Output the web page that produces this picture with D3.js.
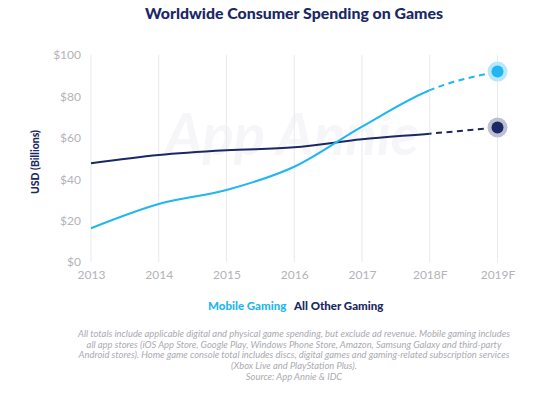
<!DOCTYPE html>
<html><head><meta charset="utf-8">
<script src="https://cdn.jsdelivr.net/npm/d3@7"></script>
<style>
html,body{margin:0;padding:0;background:#fff;}
svg{display:block;}
</style></head>
<body>
<svg id="chart" width="554" height="393"></svg>
<script>
const years = ["2013","2014","2015","2016","2017","2018F","2019F"];
const mobileGaming = [16.3, 28, 34.8, 46, 65.4, 83, 92];
const otherGaming = [47.7, 51.7, 54, 55.4, 59.3, 62, 65];
const yTicks = [0, 20, 40, 60, 80, 100];
const titleText = "Worldwide Consumer Spending on Games";
const yLabel = "USD (Billions)";
const legendLabels = ["Mobile Gaming", "All Other Gaming"];
const footnote = [
  "All totals include applicable digital and physical game spending, but exclude ad revenue. Mobile gaming includes",
  "all app stores (iOS App Store,  Google Play, Windows Phone Store, Amazon, Samsung Galaxy and third-party",
  "Android stores). Home game console total includes discs, digital games and gaming-related subscription services",
  "(Xbox Live and PlayStation Plus).",
  "Source: App Annie & IDC"
];

const blue = "#1fb6f1", navy = "#1a2865", gray = "#b3b3b8";
const font = "Lato, 'Open Sans', sans-serif";
const svg = d3.select("#chart");

const x = d3.scalePoint().domain(years).range([91, 497.5]);
const y = d3.scaleLinear().domain([0, 100]).range([262, 55]);

// watermark
svg.append("text").attr("x", 292).attr("y", 155).attr("text-anchor", "middle")
  .attr("font-family", font).attr("font-style", "italic").attr("font-weight", 700)
  .attr("font-size", 58).attr("fill", "#f6f6f9").text("App Annie");

// title
svg.append("text").attr("x", 294).attr("y", 19).attr("text-anchor", "middle")
  .attr("font-family", font).attr("font-weight", 900).attr("font-size", 15)
  .attr("fill", navy).attr("textLength", 298).attr("lengthAdjust", "spacingAndGlyphs")
  .text(titleText);

// vertical grid
svg.append("g").selectAll("line").data(years).join("line")
  .attr("x1", d => x(d)).attr("x2", d => x(d))
  .attr("y1", y(100)).attr("y2", y(0))
  .attr("stroke", "#e9e9ee").attr("stroke-width", 1);

// y axis
const yAxis = svg.append("g").attr("transform", "translate(81,0)")
  .call(d3.axisLeft(y).tickValues(yTicks).tickSize(0).tickPadding(0).tickFormat(d => "$" + d));
yAxis.select(".domain").remove();
yAxis.selectAll("text").attr("font-family", font).attr("font-size", 12).attr("fill", gray);

// x axis
const xAxis = svg.append("g").attr("transform", "translate(0,270)")
  .call(d3.axisBottom(x).tickSize(0).tickPadding(0));
xAxis.select(".domain").remove();
xAxis.selectAll("text").attr("font-family", font).attr("font-size", 12).attr("fill", gray);

// y label
svg.append("text").attr("transform", "translate(39,162) rotate(-90)")
  .attr("text-anchor", "middle").attr("font-family", font).attr("font-weight", 900)
  .attr("font-size", 10.5).attr("fill", navy).text(yLabel);

// clips
const defs = svg.append("defs");
defs.append("clipPath").attr("id", "solidClip").append("rect")
  .attr("x", 0).attr("y", 0).attr("width", x("2018F")).attr("height", 393);
defs.append("clipPath").attr("id", "dashClip").append("rect")
  .attr("x", x("2018F")).attr("y", 0).attr("width", 554 - x("2018F")).attr("height", 393);

const line = d3.line().x((d, i) => x(years[i])).y(d => y(d)).curve(d3.curveMonotoneX);
const series = [
  {vals: otherGaming, color: navy, halo: "#bcc0d0"},
  {vals: mobileGaming, color: blue, halo: "#b6e7fb"}
];
series.forEach(s => {
  svg.append("path").attr("d", line(s.vals)).attr("fill", "none")
    .attr("stroke", s.color).attr("stroke-width", 2).attr("clip-path", "url(#solidClip)");
  svg.append("path").attr("d", line(s.vals)).attr("fill", "none")
    .attr("stroke", s.color).attr("stroke-width", 2).attr("stroke-dasharray", "6,4.5")
    .attr("clip-path", "url(#dashClip)");
  const last = years.length - 1;
  svg.append("circle").attr("cx", x(years[last])).attr("cy", y(s.vals[last]))
    .attr("r", 10).attr("fill", s.halo);
  svg.append("circle").attr("cx", x(years[last])).attr("cy", y(s.vals[last]))
    .attr("r", 6).attr("fill", s.color);
});

// legend
const legendX = [208, 294];
const legendColors = [blue, navy];
svg.append("g").selectAll("text").data(legendLabels).join("text")
  .attr("x", (d, i) => legendX[i]).attr("y", 310)
  .attr("font-family", font).attr("font-weight", 900).attr("font-size", 11.5)
  .attr("fill", (d, i) => legendColors[i]).text(d => d);

// footnote
svg.append("g").selectAll("text").data(footnote).join("text")
  .attr("x", 294).attr("y", (d, i) => 337 + i * 10.7).attr("text-anchor", "middle")
  .attr("font-family", font).attr("font-style", "italic").attr("font-size", 9.4)
  .attr("fill", "#aaaab1").text(d => d);
</script>
</body></html>
